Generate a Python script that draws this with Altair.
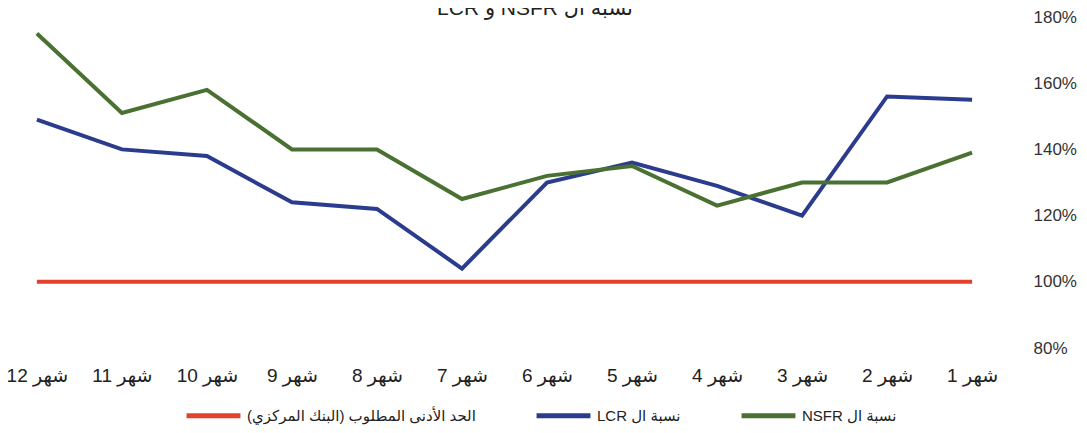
import altair as alt
import pandas as pd

# Data (months 1..12)
months = ["شهر 1", "شهر 2", "شهر 3", "شهر 4", "شهر 5", "شهر 6",
          "شهر 7", "شهر 8", "شهر 9", "شهر 10", "شهر 11", "شهر 12"]
lcr = [155, 156, 120, 129, 136, 130, 104, 122, 124, 138, 140, 149]
nsfr = [139, 130, 130, 123, 135, 132, 125, 140, 140, 158, 151, 175]
minimum = [100, 100, 100, 100, 100, 100, 100, 100, 100, 100, 100, 100]

series_names = ["الحد الأدنى المطلوب (البنك المركزي)", "نسبة ال LCR", "نسبة ال NSFR"]
series_colors = ["#E4402A", "#2B3B8E", "#4A7032"]
y_ticks = [80, 100, 120, 140, 160, 180]
title_text = "نسبة ال NSFR و LCR"

rows = []
for name, vals in zip(series_names, [minimum, lcr, nsfr]):
    for m, v in zip(months, vals):
        rows.append({"month": m, "series": name, "value": v})
df = pd.DataFrame(rows)

RLE = "\u202b"
PDF = "\u202c"
FONT = "Liberation Sans, DejaVu Sans, sans-serif"

lines = alt.Chart(df).mark_line(strokeWidth=4, strokeCap="butt").encode(
    x=alt.X("month:N", sort=months[::-1],
            scale=alt.Scale(type="point", padding=0.34),
            axis=alt.Axis(title=None, domain=False, ticks=False, grid=False,
                          labelAngle=0, labelFontSize=19, labelFont=FONT,
                          labelColor="#222222", labelPadding=27,
                          labelBaseline="middle")),
    y=alt.Y("value:Q",
            scale=alt.Scale(domain=[80, 180], nice=False, zero=False),
            axis=alt.Axis(title=None, orient="right", values=y_ticks,
                          domain=False, ticks=False, grid=False,
                          labelExpr="datum.value + '%'",
                          labelFontSize=17, labelFont=FONT, labelColor="#333333",
                          labelPadding=32, labelAlign="left",
                          labelBaseline="middle")),
    color=alt.Color("series:N",
                    scale=alt.Scale(domain=series_names, range=series_colors),
                    legend=alt.Legend(title=None, orient="none", direction="horizontal",
                                      legendX=176, legendY=369,
                                      symbolType="stroke", symbolSize=2900,
                                      symbolStrokeWidth=5, labelFontSize=15,
                                      labelFont=FONT, labelColor="#222222",
                                      labelOffset=4, columnPadding=50,
                                      labelLimit=600, padding=0,
                                      labelExpr="'" + RLE + "' + datum.label + '" + PDF + "'")),
)

title_df = pd.DataFrame({"t": [RLE + title_text + PDF]})
title = alt.Chart(title_df).mark_text(
    fontSize=21, font=FONT, color="#222222", align="center", baseline="alphabetic"
).encode(text="t:N", x=alt.value(527), y=alt.value(-2))

chart = alt.layer(lines, title).properties(
    width=993,
    height=331,
    autosize=alt.AutoSizeParams(type="none"),
    padding={"left": 0, "top": 9, "right": 78, "bottom": 77},
    background="white",
).configure_view(stroke=None)

chart.save("out.html", embed_options={"renderer": "svg", "actions": False})
